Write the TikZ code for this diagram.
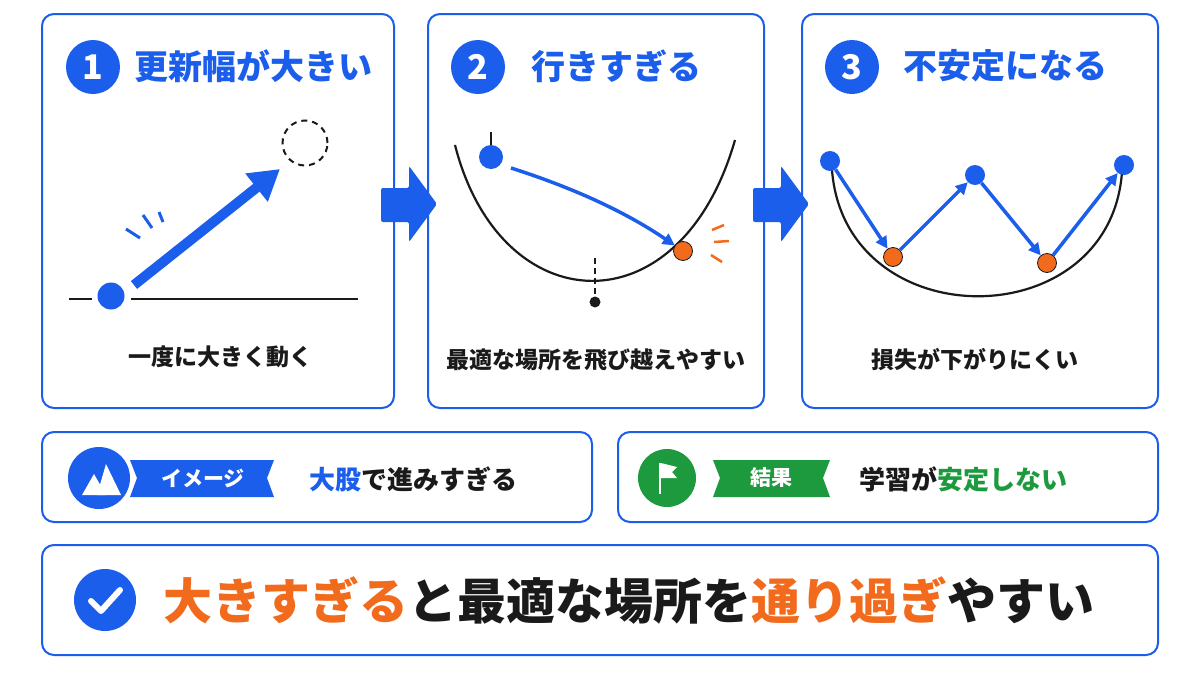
\documentclass[tikz,border=0pt]{standalone}
\usepackage{fontspec}
\setmainfont{Noto Sans CJK JP}
\usetikzlibrary{arrows.meta}
\definecolor{bl}{HTML}{1A5EEB}
\definecolor{og}{HTML}{F26B1D}
\definecolor{gr}{HTML}{1E9A3E}
\definecolor{ink}{HTML}{1A1A1A}
\begin{document}
\begin{tikzpicture}[x=1pt,y=-1pt,
  panel/.style={draw=bl,line width=2pt,rounded corners=12pt,fill=white},
  num/.style={circle,fill=bl,text=white,minimum size=54pt,inner sep=0,font=\bfseries\fontsize{34}{34}\selectfont},
  ttl/.style={anchor=west,text=bl,font=\bfseries\fontsize{34}{34}\selectfont},
  captxt/.style={text=ink,font=\bfseries\fontsize{23}{23}\selectfont},
  dotb/.style={circle,fill=bl,minimum size=24pt,inner sep=0},
  doto/.style={circle,fill=og,draw=ink,line width=0.8pt,minimum size=19pt,inner sep=0},
  dotB/.style={circle,fill=bl,minimum size=20pt,inner sep=0},
  barr/.style={bl,line width=3.5pt,-{Triangle[length=12pt,width=12pt]}},
  blk/.style={fill=bl,rounded corners=2pt}
]
\useasboundingbox (0,0) rectangle (1200,675);
\fill[white] (0,0) rectangle (1200,675);
% panels
\draw[panel] (42,14) rectangle (394,408);
\draw[panel] (428,14) rectangle (764,408);
\draw[panel] (802,14) rectangle (1158,408);
\node[num] (n1) at (93,67) {1};
\node[ttl] (t1) at (131,66) {更新幅が大きい};
\node[num] (n2) at (478,67) {2};
\node[ttl] (t2) at (528,66) {行きすぎる};
\node[num] (n3) at (852,67) {3};
\node[ttl] (t3) at (900,66) {不安定になる};
% block arrows
\fill[blk] (381,188) -- (409,188) -- (409,166) -- (437,204) -- (409,242) -- (409,222) -- (381,222) -- cycle;
\fill[blk] (753,188) -- (781,188) -- (781,166) -- (809,204) -- (781,242) -- (781,222) -- (753,222) -- cycle;
% panel 1
\draw[ink,line width=2.5pt] (69,299) -- (92,299) (131,299) -- (358,299);
\node[dotb,minimum size=27pt] (p1) at (111,296) {};
\node[circle,draw=ink,line width=2pt,minimum size=45pt,inner sep=0,dash pattern=on 6pt off 5pt] (g1) at (305,143) {};
\coordinate (s1) at (134,285);
\coordinate (e1) at (280,169);
\draw[bl,line width=10pt,-{Triangle[length=30pt,width=34pt]}] (s1) -- (e1);
\draw[bl,line width=3pt] (126,229) -- (140,238) (143,215) -- (152,228) (159,212) -- (163,222);
\node[captxt] (c1) at (220,357) {一度に大きく動く};
% panel 2
\draw[ink,line width=2.2pt] (455,145) .. controls (500,322) and (680,332) .. (735,140);
\draw[ink,line width=2pt] (491,132) -- (491,146);
\node[dotb] (b2) at (491,157) {};
\node[doto] (o2) at (683,251) {};
\draw[ink,line width=2pt,dash pattern=on 6pt off 4pt] (595,258) -- (595,296);
\node[circle,fill=ink,minimum size=11pt,inner sep=0] (m2) at (595,302) {};
\draw[barr] (511,168) .. controls (580,190) and (630,215) .. (o2);
\draw[og,line width=2.5pt] (712,230) -- (724,225) (714,242) -- (729,241) (711,255) -- (722,262);
\node[captxt] (c2) at (596,360) {最適な場所を飛び越えやすい};
% panel 3
\draw[ink,line width=2.2pt] (832,170) .. controls (845,338) and (1110,338) .. (1122,172);
\node[dotB] (d1) at (830,161) {};
\node[doto] (d2) at (893,257) {};
\node[dotB] (d3) at (975,175) {};
\node[doto] (d4) at (1047,263) {};
\node[dotB] (d5) at (1124,165) {};
\draw[barr] (d1) -- (d2);
\draw[barr] (d2) -- (d3);
\draw[barr] (d3) -- (d4);
\draw[barr] (d4) -- (d5);
\node[captxt] (c3) at (975,360) {損失が下がりにくい};
% bottom boxes
\draw[panel] (42,432) rectangle (592,522);
\node[circle,fill=bl,minimum size=62pt,inner sep=0] (i1) at (99,478) {};
\fill[white] (82,495) -- (94,474) -- (106,495) -- cycle;
\fill[white] (97,495) -- (106,464) -- (121,495) -- cycle;
\fill[bl] (130,460) -- (274,460) -- (267,478) -- (274,497) -- (130,497) -- (137,478) -- cycle;
\node[text=white,font=\bfseries\fontsize{21}{21}\selectfont] (r1) at (203,478) {イメージ};
\node[anchor=west,font=\bfseries\fontsize{26}{26}\selectfont,text=ink] (x1) at (306,479) {\textcolor{bl}{大股}で進みすぎる};
\draw[panel] (618,432) rectangle (1158,522);
\node[circle,fill=gr,minimum size=58pt,inner sep=0] (i2) at (667,478) {};
\draw[white,line width=2.5pt] (660,463) -- (660,494);
\fill[white] (661,463) -- (677,467) -- (672,472) -- (677,478) -- (661,478) -- cycle;
\fill[gr] (713,460) -- (830,460) -- (823,478) -- (830,497) -- (713,497) -- (720,478) -- cycle;
\node[text=white,font=\bfseries\fontsize{21}{21}\selectfont] (r2) at (771,478) {結果};
\node[anchor=west,font=\bfseries\fontsize{26}{26}\selectfont,text=ink] (x2) at (856,479) {学習が\textcolor{gr}{安定しない}};
% summary
\draw[panel] (42,545) rectangle (1158,655);
\node[circle,fill=bl,minimum size=62pt,inner sep=0] (ck) at (105,600) {};
\draw[white,line width=6pt,line cap=round,line join=round] (91,601) -- (101,611) -- (120,590);
\node[anchor=west,font=\bfseries\fontsize{49}{49}\selectfont,text=ink] (sm) at (160,601) {\textcolor{og}{大きすぎる}と最適な場所を\textcolor{og}{通り過ぎ}やすい};
\end{tikzpicture}
\end{document}
